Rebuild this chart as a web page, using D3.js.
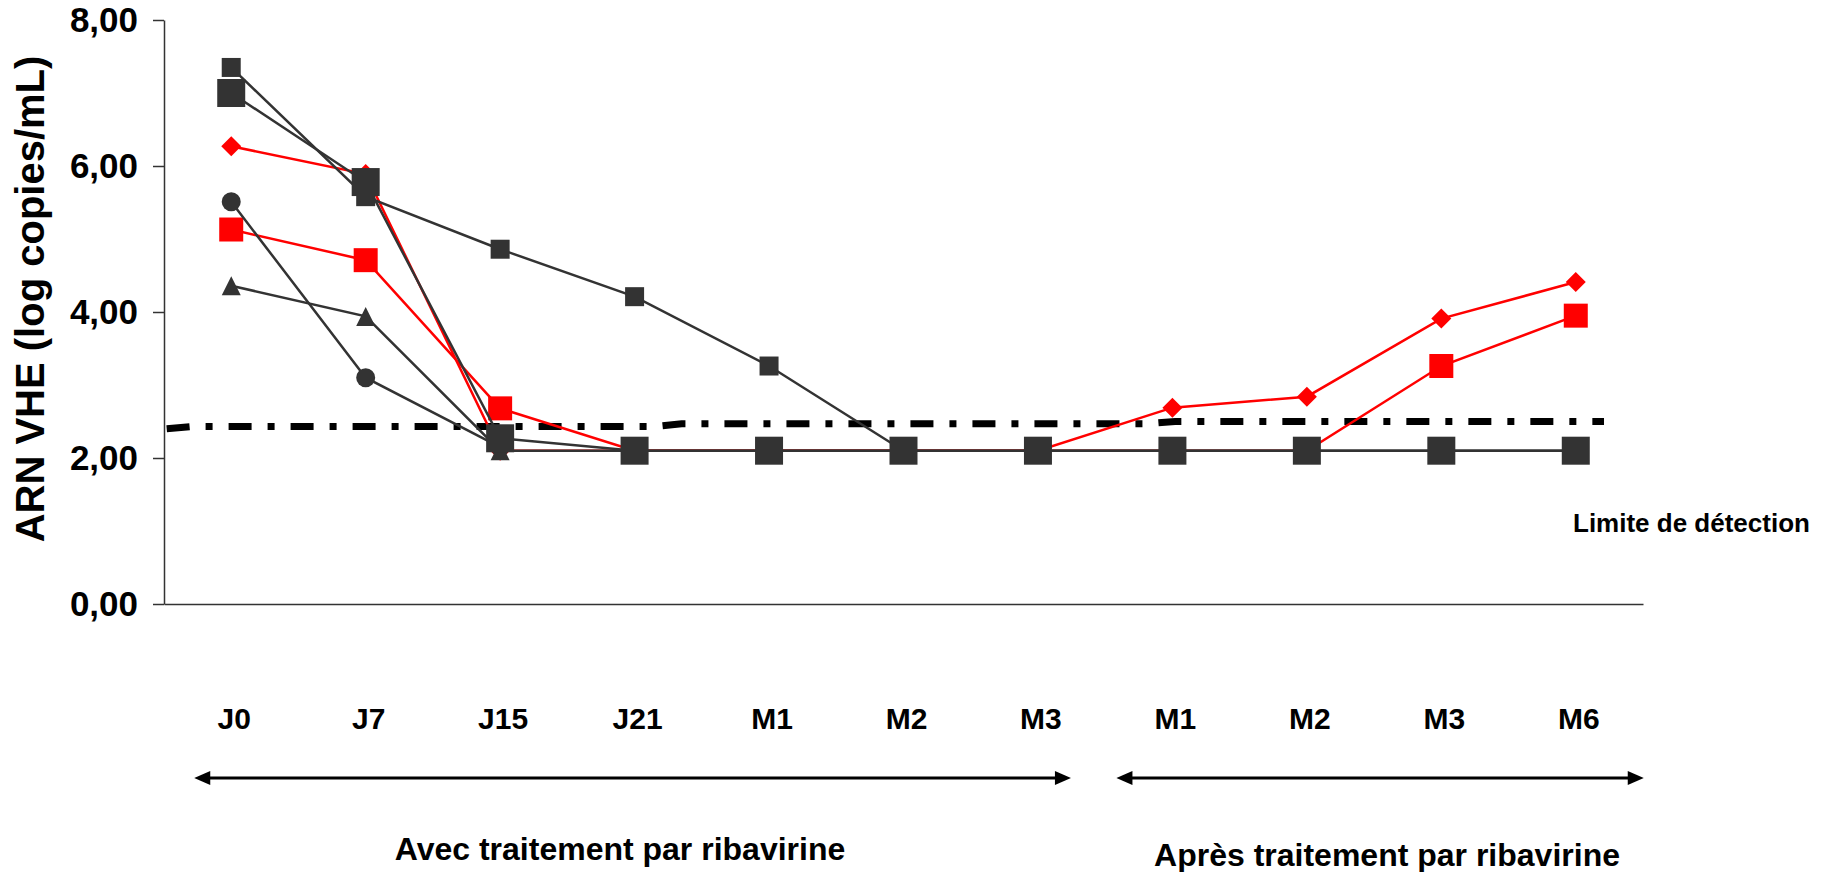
<!DOCTYPE html>
<html>
<head>
<meta charset="utf-8">
<script src="https://cdn.jsdelivr.net/npm/d3@7"></script>
<style>
    body { margin: 0; background: #fff; }
    svg text { font-family: "Liberation Sans", Arial, sans-serif; font-weight: bold; fill: #000; }
</style>
</head>
<body>
<svg id="chart"></svg>
<script>
// Categories on the x axis (the M1..M3 labels appear twice: during and after treatment)
var categories = ["J0", "J7", "J15", "J21", "M1", "M2", "M3", "M1", "M2", "M3", "M6"];
var yTicks = [0, 2, 4, 6, 8];

// Viral load per patient, log copies/mL (null = no point)
var patientA = [7.35, 5.58, 4.86, 4.21, 3.26, 2.10, null, null, null, null, null];
var patientB = [7.00, 5.78, 2.27, 2.10, 2.10, 2.10, 2.10, 2.10, 2.10, 2.10, 2.10];
var patientC = [5.51, 3.10, 2.15, null, null, null, null, null, null, null, null];
var patientD = [4.36, 3.94, 2.10, 2.10, 2.10, 2.10, 2.10, 2.10, 2.10, 2.10, 2.10];
var patientE = [6.27, 5.89, 2.10, 2.10, 2.10, 2.10, 2.10, 2.69, 2.84, 3.91, 4.41];
var patientF = [5.13, 4.71, 2.68, 2.10, 2.10, 2.10, 2.10, 2.10, 2.10, 3.26, 3.95];

// Detection limit: [category index (fractional), value]
var limitIndex = [-0.48, -0.3, 3.14, 3.35, 6.82, 7.02, 10.21];
var limitValue = [2.40, 2.43, 2.43, 2.47, 2.47, 2.50, 2.50];

// Treatment phases: first and last category index
var phaseLabels = ["Avec traitement par ribavirine", "Après traitement par ribavirine"];
var phaseStart = [0, 7];
var phaseEnd = [6, 10];

(function() {
    const width = 1831
    const height = 872
    const dark = "#333333"
    const red = "#ff0000"

    var svg = d3.select("#chart")
        .attr("width", width)
        .attr("height", height)

    var x = d3.scaleBand()
        .domain(d3.range(categories.length))
        .range([164, 1643])
    var bw = x.bandwidth()
    var cx = (i) => x(i) + bw / 2

    // continuous version of the category axis, for the detection limit and arrows
    var xi = d3.scaleLinear()
        .domain([0, categories.length - 1])
        .range([cx(0), cx(categories.length - 1)])

    var y = d3.scaleLinear()
        .domain([0, 8])
        .range([604, 20])

    // Axes
    var yAxis = svg.append("g")
        .attr("transform", "translate(" + x.range()[0] + ",0)")
        .call(d3.axisLeft(y)
            .tickValues(yTicks)
            .tickSize(11)
            .tickSizeOuter(0)
            .tickPadding(15)
            .tickFormat((d) => d3.format(".2f")(d).replace(".", ",")))
    yAxis.selectAll("path, line").attr("stroke", dark).attr("stroke-width", 1.5)
    yAxis.selectAll("text").style("font-size", "35px").attr("fill", "#000")

    var xAxis = svg.append("g")
        .attr("transform", "translate(0," + y(0) + ")")
        .call(d3.axisBottom(x)
            .tickSize(0)
            .tickSizeOuter(0)
            .tickPadding(104)
            .tickFormat((i) => categories[i]))
    xAxis.selectAll("path").attr("stroke", dark).attr("stroke-width", 1.5)
    xAxis.selectAll("text").style("font-size", "30px").attr("fill", "#000")
        .attr("dx", 3)

    svg.append("text")
        .attr("transform", "translate(44,299) rotate(-90)")
        .attr("text-anchor", "middle")
        .style("font-size", "40px")
        .text("ARN VHE (log copies/mL)")

    // Detection limit, thick dash-dot line
    var limit = limitIndex.map((d, i) => [d, limitValue[i]])
    svg.append("path")
        .datum(limit)
        .attr("fill", "none")
        .attr("stroke", "#000")
        .attr("stroke-width", 7)
        .attr("stroke-dasharray", "23,16,7,16")
        .attr("d", d3.line().x((d) => xi(d[0])).y((d) => y(d[1])))

    svg.append("text")
        .attr("x", 1573)
        .attr("y", 532)
        .style("font-size", "26px")
        .text("Limite de détection")

    // Marker shapes, s = full size in px
    function marker(type, s) {
        var h = s / 2
        if (type == "square") return "M" + -h + "," + -h + "h" + s + "v" + s + "h" + -s + "Z"
        if (type == "diamond") return "M0," + -h + "L" + h + ",0L0," + h + "L" + -h + ",0Z"
        if (type == "triangle") return "M0," + -h + "L" + h + "," + h + "L" + -h + "," + h + "Z"
        return d3.symbol(d3.symbolCircle, Math.PI * h * h)()
    }

    // red first, dark drawn on top
    var series = [
        { values: patientE, color: red, shape: "diamond", size: 20 },
        { values: patientF, color: red, shape: "square", size: 24 },
        { values: patientC, color: dark, shape: "circle", size: 19 },
        { values: patientD, color: dark, shape: "triangle", size: 19 },
        { values: patientA, color: dark, shape: "square", size: 19 },
        { values: patientB, color: dark, shape: "square", size: 28 }
    ]

    var line = d3.line()
        .defined((d) => d != null)
        .x((d, i) => cx(i))
        .y((d) => y(d))

    series.forEach(function(s) {
        var g = svg.append("g")
        g.append("path")
            .datum(s.values)
            .attr("fill", "none")
            .attr("stroke", s.color)
            .attr("stroke-width", 2.5)
            .attr("d", line)
        g.selectAll("path.pt")
            .data(s.values.map((v, i) => ({ v: v, i: i })).filter((d) => d.v != null))
            .enter()
            .append("path")
            .attr("class", "pt")
            .attr("transform", (d) => "translate(" + cx(d.i) + "," + y(d.v) + ")")
            .attr("d", marker(s.shape, s.size))
            .attr("fill", s.color)
    })

    // Treatment phase arrows and labels
    var pads = [[37, 33], [56, 68]]
    phaseLabels.forEach(function(label, k) {
        var x1 = xi(phaseStart[k]) - pads[k][0]
        var x2 = xi(phaseEnd[k]) + pads[k][1]
        var ay = 778
        svg.append("line")
            .attr("x1", x1 + 10).attr("x2", x2 - 10)
            .attr("y1", ay).attr("y2", ay)
            .attr("stroke", "#000")
            .attr("stroke-width", 3)
        svg.append("path")
            .attr("d", "M" + x1 + "," + ay + "l16,-7v14Z")
        svg.append("path")
            .attr("d", "M" + x2 + "," + ay + "l-16,-7v14Z")
        svg.append("text")
            .attr("x", k == 0 ? 620 : 1387)
            .attr("y", k == 0 ? 860 : 866)
            .attr("text-anchor", "middle")
            .style("font-size", "32px")
            .text(label)
    })
})();
</script>
</body>
</html>
